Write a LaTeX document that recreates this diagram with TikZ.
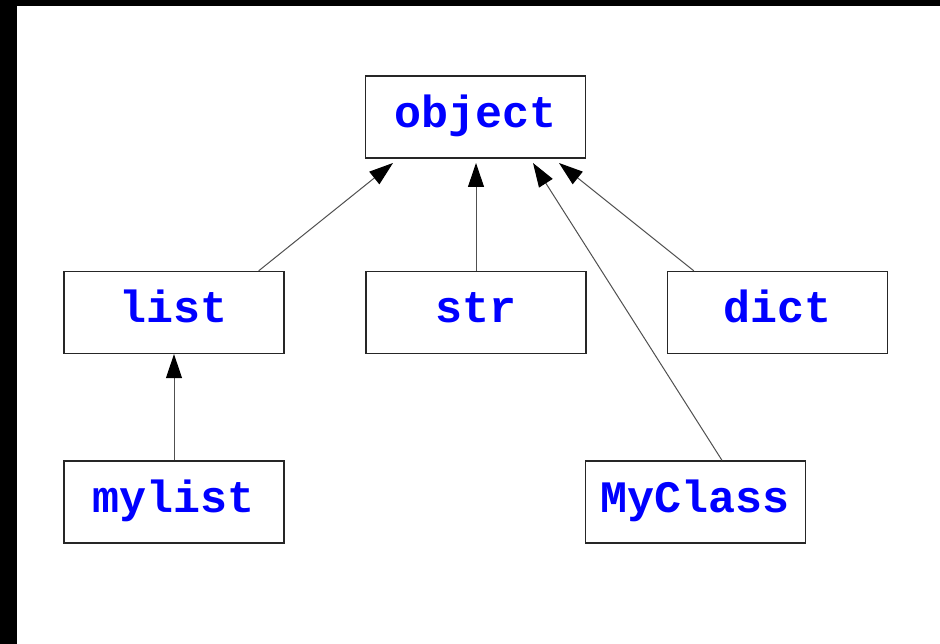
\documentclass[tikz,border=0pt]{standalone}
\usepackage{fontspec}
\setmonofont{Liberation Mono}
\usetikzlibrary{arrows.meta}
\definecolor{clsblue}{RGB}{0,0,255}
\definecolor{edgegray}{RGB}{80,80,80}
\tikzset{
  cls/.style={draw=black!85, line width=1.3pt, fill=white,
    minimum width=220pt, minimum height=82pt, inner sep=0pt,
    text height=31pt, text depth=10pt,
    font=\ttfamily\bfseries\fontsize{45}{50}\selectfont, text=clsblue},
  inherit/.style={draw=edgegray, line width=1pt,
    -{Triangle[length=24pt,width=16pt,color=black]}},
}
\begin{document}
\begin{tikzpicture}[x=1pt,y=-1pt]
  % page frame with the dark band on the left and top
  \fill[black] (0,0) rectangle (940,644);
  \fill[white] (17,6) rectangle (940,644);
  \useasboundingbox (0,0) rectangle (940,644);

  % class boxes
  \node[cls] (object)  at (475.5,117) {object};
  \node[cls] (list)    at (174,312.5) {list};
  \node[cls] (str)     at (476,312.5) {str};
  \node[cls] (dict)    at (777.5,312.5) {dict};
  \node[cls] (mylist)  at (174,502)   {mylist};
  \node[cls] (myclass) at (695.5,502) {MyClass};

  % arrow tips below the base class
  \coordinate (tipA) at (393,163);
  \coordinate (tipB) at (476,163);
  \coordinate (tipC) at (533,163);
  \coordinate (tipD) at (559,163);

  % inheritance links
  \draw[inherit] ([xshift=-26pt]list.north east) -- (tipA);
  \draw[inherit] (str.north) -- (tipB);
  \draw[inherit] ([xshift=26.5pt]myclass.north) -- (tipC);
  \draw[inherit] ([xshift=27pt]dict.north west) -- (tipD);
  \draw[inherit] (mylist.north) -- (list.south);
\end{tikzpicture}
\end{document}
